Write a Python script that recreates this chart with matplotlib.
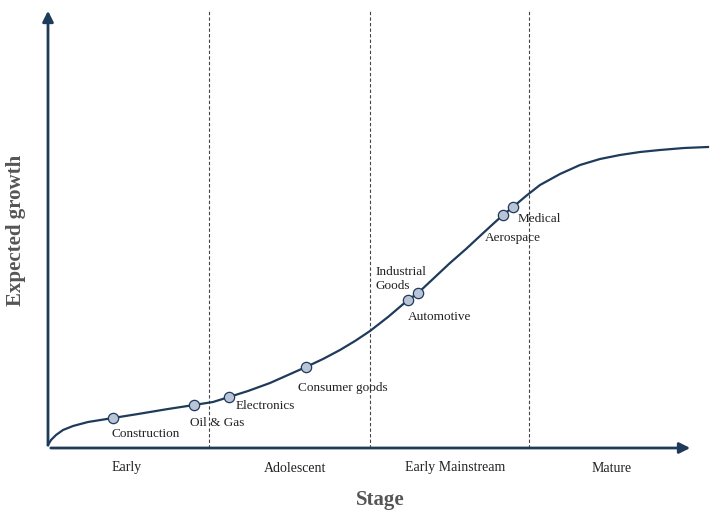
import matplotlib.pyplot as plt

plt.rcParams["font.family"] = ["Liberation Serif", "DejaVu Serif"]

NAVY = "#1f3b5c"
FILL = "#b9c5d6"

# curve (x = stage progress, y = expected growth)
curve_x = [0, 3, 8, 15, 25, 40, 65, 90, 120, 146, 165, 181, 200, 222, 240, 258,
           275, 292, 307, 322, 340, 360, 370, 386, 402, 418, 432, 445, 455, 465,
           478, 492, 512, 532, 552, 572, 592, 612, 636, 660]
curve_y = [3, 8, 13, 18, 22, 26, 30, 34, 39, 43, 46, 51, 57, 65, 73, 81,
           89, 98, 107, 117, 131, 148, 155, 170, 185, 199, 212, 224, 233, 241,
           252, 263, 274, 283, 289, 293, 296, 298, 300, 301]

industries = ["Construction", "Oil & Gas", "Electronics", "Consumer goods",
              "Automotive", "Industrial\nGoods", "Aerospace", "Medical"]
ind_x = [65, 146, 181, 258, 360, 370, 455, 465]
ind_y = [30, 43, 51, 81, 148, 155, 233, 241]
lab_x = [63, 142, 188, 250, 360, 327, 437, 470]
lab_y = [14, 25, 42, 60, 131, 169, 210, 229]

stages = ["Early", "Adolescent", "Early Mainstream", "Mature"]
stage_bounds = [161, 322, 481]
stage_centers = [79, 247, 407, 564]

fig = plt.figure(figsize=(7.14, 5.13), dpi=100)
ax = fig.add_axes([48 / 714, 65 / 513, 652 / 714, 438 / 513])
ax.set_xlim(0, 652)
ax.set_ylim(0, 438)
ax.axis("off")

# axes arrows
ax.annotate("", xy=(645, 0), xytext=(0, 0), annotation_clip=False,
            arrowprops=dict(arrowstyle="-|>", color=NAVY, lw=2, mutation_scale=16))
ax.annotate("", xy=(0, 440), xytext=(0, 0), annotation_clip=False,
            arrowprops=dict(arrowstyle="-|>", color=NAVY, lw=2, mutation_scale=16))

for b in stage_bounds:
    ax.plot([b, b], [0, 438], color="#444444", lw=0.8, ls=(0, (3, 2)))

ax.plot(curve_x, curve_y, color=NAVY, lw=1.6, clip_on=False,
        solid_joinstyle="round")
ax.scatter(ind_x, ind_y, s=55, color=FILL, edgecolor=NAVY, linewidth=0.9, zorder=3)
for t, x, y in zip(industries, lab_x, lab_y):
    ax.text(x, y, t, ha="left", va="center", fontsize=9.5, color="#222222",
            linespacing=1.25)

for s, c in zip(stages, stage_centers):
    ax.text(c, -20, s, ha="center", va="center", fontsize=10, color="#222222")

ax.text(332, -52, "Stage", ha="center", va="center", fontsize=15,
        fontweight="bold", color="#555555")
ax.text(-32, 218, "Expected growth", ha="center", va="center", fontsize=15,
        fontweight="bold", color="#555555", rotation=90)

fig.savefig("out.png", dpi=100)
